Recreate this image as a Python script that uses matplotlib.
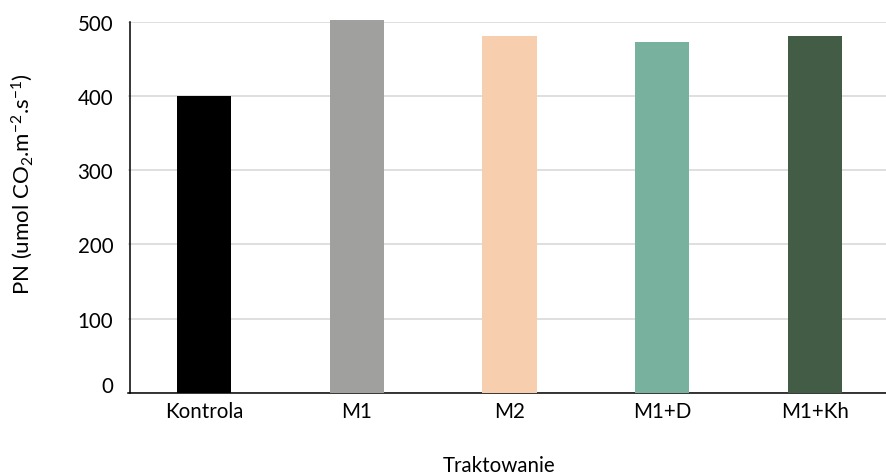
import matplotlib
matplotlib.use("Agg")
import matplotlib.pyplot as plt
from matplotlib import transforms

plt.rcParams['font.family'] = ['Lato', 'DejaVu Sans']
plt.rcParams['mathtext.fontset'] = 'custom'
plt.rcParams['mathtext.rm'] = 'Lato'
plt.rcParams['mathtext.it'] = 'Lato'
plt.rcParams['mathtext.bf'] = 'Lato:bold'

categories = ["Kontrola", "M1", "M2", "M1+D", "M1+Kh"]
pn_values = [400, 502, 481, 472, 481]
bar_colors = ["#000000", "#a0a09e", "#f7cfae", "#78b19e", "#435c45"]
y_ticks = [0, 100, 200, 300, 400, 500]

W, H = 886, 477
fig = plt.figure(figsize=(W / 100, H / 100), dpi=100)
left, right, bottom, top = 127.5, 891.5, 394.0, 22.7
ax = fig.add_axes([left / W, (H - bottom) / H, (right - left) / W, (bottom - top) / H])

x = range(len(categories))
ax.bar(x, pn_values, width=0.355, color=bar_colors, zorder=3, clip_on=False)

ax.set_xlim(-0.5, len(categories) - 0.5)
ax.set_ylim(0, 500)
ax.set_yticks(y_ticks)
ax.set_yticklabels([str(v) for v in y_ticks])
ax.set_xticks(list(x))
ax.set_xticklabels(categories)

ax.yaxis.grid(True, color="#d9d9d9", linewidth=1.2, zorder=0)
ax.set_axisbelow(True)
for s in ("top", "right"):
    ax.spines[s].set_visible(False)
ax.spines["left"].set_position(("data", -0.485))
ax.spines["left"].set_bounds(0, 500)
ax.spines["left"].set_linewidth(1.1)
ax.spines["bottom"].set_linewidth(1.1)
ax.spines["left"].set_color("#000000")
ax.spines["bottom"].set_color("#000000")

ax.tick_params(axis="both", length=0, labelsize=14.8, colors="#000000")
ax.tick_params(axis="y", pad=12)
ax.tick_params(axis="x", pad=6)

# lift the zero label off the baseline
zero_lbl = ax.get_yticklabels()[0]
zero_lbl.set_transform(zero_lbl.get_transform() +
                       transforms.ScaledTranslation(0, 9 / 100, fig.dpi_scale_trans))

fig.text(22 / W, 1 - 184 / H, r"PN (umol CO$_2$.m$^{-2}$.s$^{-1}$)",
         rotation=90, ha="center", va="center", fontsize=16)
fig.text(499 / W, 1 - 466 / H, "Traktowanie", ha="center", va="center", fontsize=14.8)

fig.savefig("out.png", dpi=100)
